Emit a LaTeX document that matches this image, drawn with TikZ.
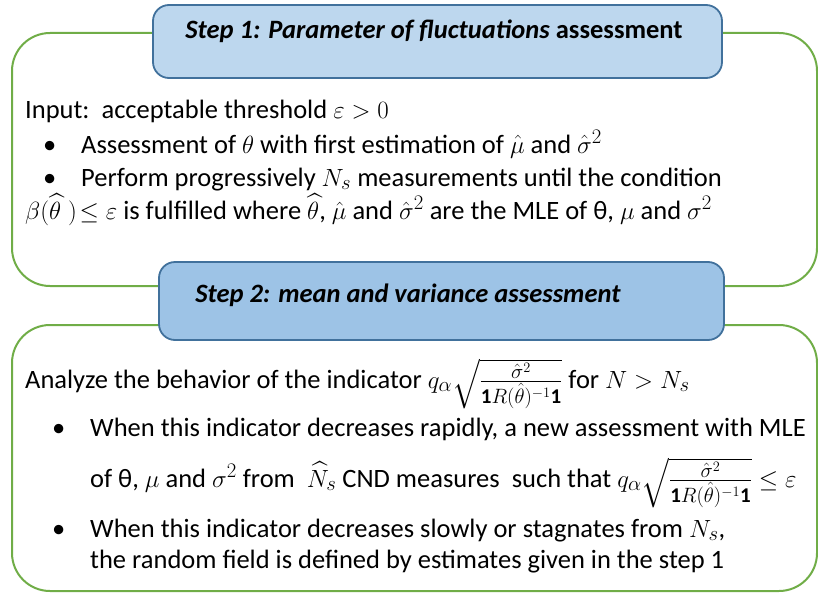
\documentclass[tikz,border=0pt]{standalone}
\usepackage{amsmath,amssymb}
\usepackage{fontspec}
\setmainfont{Carlito}
\DeclareMathSizes{26.5}{27.5}{21}{15}
\definecolor{stepgreen}{HTML}{70AD47}
\definecolor{headborder}{HTML}{41719C}
\definecolor{headfillA}{HTML}{BDD7EE}
\definecolor{headfillB}{HTML}{9DC3E6}
\newcommand{\indic}{q_\alpha\sqrt{\frac{\hat\sigma^2}{\mathbf{1}R(\hat\theta)^{-1}\mathbf{1}}}}
\begin{document}
\begin{tikzpicture}[x=1pt,y=-1pt,
  greenbox/.style={draw=stepgreen, line width=2pt, rounded corners=38pt},
  headbox/.style={draw=headborder, line width=1.8pt, rounded corners=16pt},
  txt/.style={anchor=base west, inner sep=0pt, font=\fontsize{26.5}{30}\selectfont},
  headtxt/.style={anchor=base, inner sep=0pt, font=\fontsize{26.5}{30}\selectfont\bfseries}]
\useasboundingbox (0,0) rectangle (818,594);
% frames
\draw[greenbox] (12,33) rectangle (817,286);
\draw[greenbox] (12,325) rectangle (817,591);
\draw[headbox, fill=headfillA] (153,5) rectangle (722,78);
\draw[headbox, fill=headfillB] (159,262) rectangle (724,340);
% headers
\node[headtxt] (h1) at (434,39) {\textit{Step 1: Parameter of fluctuations} assessment};
\node[headtxt] (h2) at (408,302) {\textit{Step 2: mean and variance assessment}};
% step 1 text
\node[txt] (a0) at (25,118) {Input:\ \ acceptable threshold $\varepsilon>0$};
\node[txt] (ab1) at (43,153) {\textbullet};
\node[txt] (a1) at (81,153) {Assessment of $\theta$ with first estimation of $\hat\mu$ and $\hat\sigma^2$};
\node[txt] (ab2) at (43,186) {\textbullet};
\node[txt] (a2) at (81,186) {Perform progressively\ $N_s$ measurements until the condition};
\node[txt] (a3) at (25,219) {$\beta(\widehat{\theta}\;)\!\leq\varepsilon$ is fulfilled where $\widehat{\theta}$, $\hat\mu$ and $\hat\sigma^2$ are the MLE of θ, $\mu$ and $\sigma^2$};
% step 2 text
\node[txt] (b0) at (25,388) {Analyze the behavior of the indicator $\indic$ for $N>N_s$};
\node[txt] (bb1) at (52,436) {\textbullet};
\node[txt] (b1) at (90,436) {When this indicator decreases rapidly, a new assessment with MLE};
\node[txt] (b2) at (90,487) {of θ, $\mu$ and $\sigma^2$ from\ \ $\widehat{N}_s$ CND measures\ \ such that $\indic\leq\varepsilon$};
\node[txt] (bb2) at (52,537) {\textbullet};
\node[txt] (b3) at (90,537) {When this indicator decreases slowly or stagnates from $N_s$,};
\node[txt] (b4) at (90,568) {the random field is defined by estimates given in the step 1};
\end{tikzpicture}
\end{document}
